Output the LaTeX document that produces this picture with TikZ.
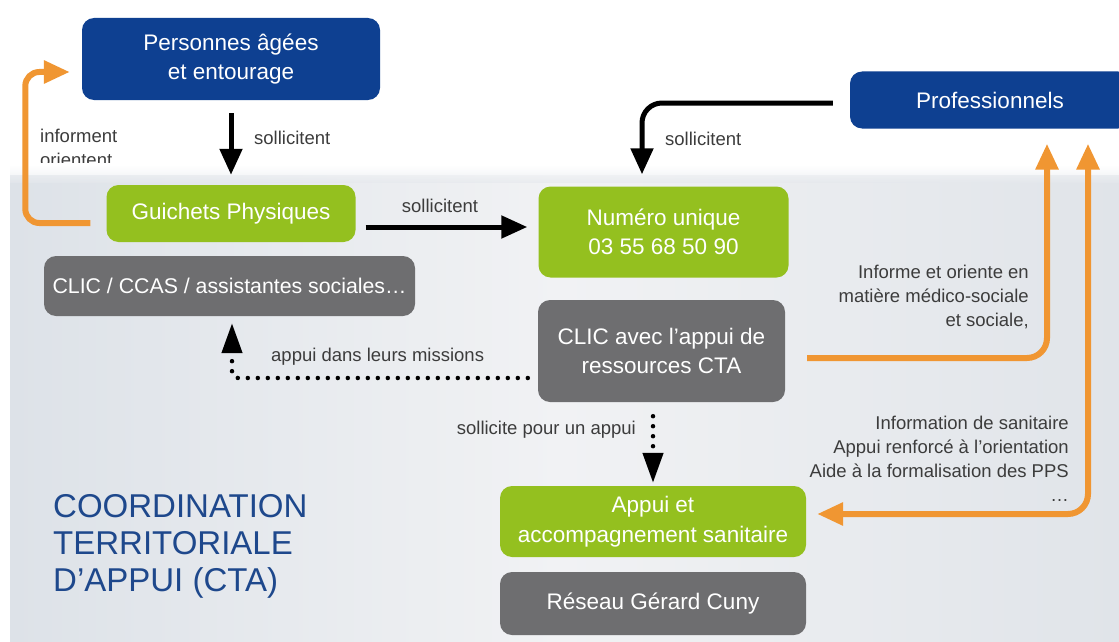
\documentclass[tikz,border=0pt]{standalone}
\usepackage{fontspec}
\setmainfont{Liberation Sans}
\usetikzlibrary{arrows.meta}
\definecolor{cblue}{RGB}{14,64,145}
\definecolor{cgreen}{RGB}{148,192,31}
\definecolor{cgrey}{RGB}{110,110,112}
\definecolor{corange}{RGB}{240,150,50}
\definecolor{ctitle}{RGB}{30,72,140}
\definecolor{clabel}{RGB}{60,60,60}
\definecolor{bgl}{RGB}{221,226,232}
\definecolor{bgm}{RGB}{241,242,244}
\definecolor{bgr}{RGB}{224,228,233}
\tikzset{
  box/.style={rounded corners=12pt, text=white, align=center, inner sep=0pt,
    font=\fontsize{22.5}{29.5}\selectfont},
  bluebox/.style={box, fill=cblue},
  greenbox/.style={box, fill=cgreen},
  greybox/.style={box, fill=cgrey},
  lbl/.style={text=clabel, font=\fontsize{18.5}{24}\selectfont, inner sep=0pt},
  blackarrow/.style={draw=black, line width=5pt, -{Triangle[length=26pt,width=22pt]}},
  orangearrow/.style={draw=corange, line width=6pt, rounded corners=20pt, -{Triangle[length=26pt,width=22pt]}},
  dotarrow/.style={draw=black, line width=4.5pt, line cap=round, dash pattern=on 0pt off 10pt,
    -{Triangle[length=30pt,width=20pt]}},
}
\begin{document}
\begin{tikzpicture}[x=1pt,y=-1pt]
\clip (0,0) rectangle (1119,642);
\fill[white] (0,0) rectangle (1119,642);
% label partly hidden by the grey area
\begin{scope}
\clip (0,0) rectangle (200,162);
\node[lbl, anchor=west, align=left] (linf) at (40,148) {informent\\orientent};
\end{scope}
% grey background
\shade[left color=bgl, right color=bgm] (10,175) rectangle (560,642);
\shade[left color=bgm, right color=bgr] (560,175) rectangle (1119,642);
\shade[top color=white, bottom color=bgl!60!bgm, opacity=0.6] (10,165) rectangle (1119,182);

% nodes
\node[bluebox, minimum width=298pt, minimum height=82pt] (pers) at (231,59) {Personnes âgées\\et entourage};
\node[bluebox, minimum width=280pt, minimum height=57pt] (prof) at (990,100) {Professionnels};
\node[greenbox, minimum width=249pt, minimum height=57pt] (guich) at (231,213.5) {Guichets Physiques};
\node[greybox, minimum width=371pt, minimum height=60pt, font=\fontsize{21.3}{28}\selectfont] (clic) at (229.5,286) {CLIC / CCAS / assistantes sociales…};
\node[greenbox, minimum width=250pt, minimum height=91pt] (num) at (663.5,232) {Numéro unique\\03 55 68 50 90};
\node[greybox, minimum width=247pt, minimum height=102pt] (clicr) at (661.5,351) {CLIC avec l’appui de\\ressources CTA};
\node[greenbox, minimum width=306pt, minimum height=71pt] (appui) at (653,521.5) {Appui et\\accompagnement sanitaire};
\node[greybox, minimum width=306pt, minimum height=63pt] (reseau) at (653,603.5) {Réseau Gérard Cuny};

% title
\node[anchor=north west, align=left, text=ctitle, inner sep=0pt,
  font=\fontsize{33}{37}\selectfont] (title) at (53,494) {COORDINATION\\TERRITORIALE\\D’APPUI (CTA)};

% labels
\node[lbl, anchor=west] (l1) at (254,138) {sollicitent};
\node[lbl] (l2) at (440,206) {sollicitent};
\node[lbl, anchor=west] (l3) at (665,139) {sollicitent};
\node[lbl, anchor=west] (l4) at (271,357) {appui dans leurs missions};
\node[lbl, anchor=east] (l5) at (636,430) {sollicite pour un appui};
\node[lbl, anchor=east, align=right] (l6) at (1029,297) {Informe et oriente en\\matière médico-sociale\\et sociale,};
\node[lbl, anchor=east, align=right] (l7) at (1069,459) {Information de sanitaire\\Appui renforcé à l’orientation\\Aide à la formalisation des PPS\\…};

% black arrows
\draw[blackarrow] ([yshift=-13pt]pers.south) -- ([yshift=10pt]guich.north);
\draw[blackarrow] ([shift={(10pt,-13.5pt)}]guich.east) coordinate (g1) -- ([xshift=-11pt]g1 -| num.west);
\draw[blackarrow, rounded corners=20pt] ([shift={(-17pt,-3pt)}]prof.west) -| ([shift={(-21.5pt,12pt)}]num.north);

% orange arrows
\draw[orangearrow, rounded corners=14pt] ([shift={(-16pt,-9.5pt)}]guich.west) -- ++(-65,0) |- ([shift={(-12pt,-13pt)}]pers.west);
\draw[orangearrow] ([shift={(22pt,-7pt)}]clicr.east) -| ([shift={(57pt,-15pt)}]prof.south);
\draw[orangearrow, {Triangle[length=26pt,width=22pt]}-{Triangle[length=26pt,width=22pt]}] ([shift={(98pt,-15pt)}]prof.south) |- ([shift={(11pt,7.5pt)}]appui.east);

% dotted arrows
\draw[dotarrow, rounded corners=6pt] ([shift={(-10pt,-27pt)}]clicr.west) -| ([shift={(2.5pt,-7pt)}]clic.south);
\draw[dotarrow] ([yshift=-14pt]clicr.south -| appui.north) -- ([yshift=3pt]appui.north);
\end{tikzpicture}
\end{document}
